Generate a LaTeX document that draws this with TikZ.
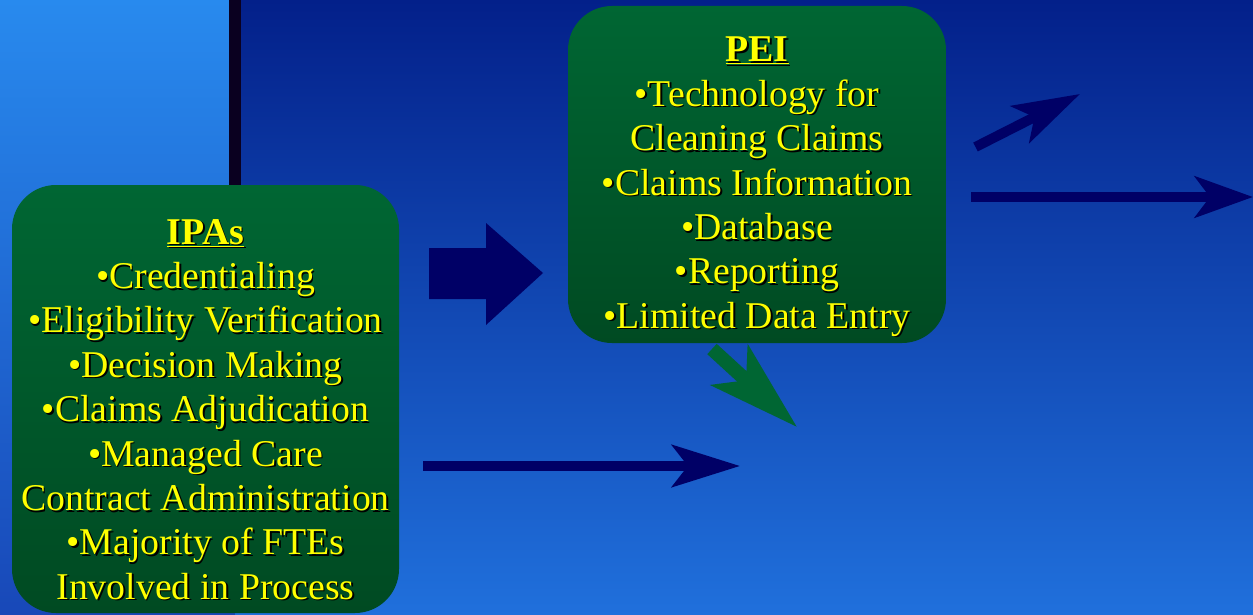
\documentclass[tikz,border=0pt]{standalone}
\usepackage{fontspec}
\setmainfont{Liberation Serif}
\usetikzlibrary{arrows.meta}
\definecolor{navy}{HTML}{000066}
\definecolor{boxtop}{HTML}{006633}
\definecolor{boxbot}{HTML}{004A22}
\definecolor{ltop}{HTML}{288AEE}
\definecolor{lbot}{HTML}{1848B8}
\definecolor{rtop}{HTML}{03208A}
\definecolor{rbot}{HTML}{2070DC}
\definecolor{barc}{HTML}{0A0020}
\definecolor{txtyellow}{HTML}{FFFF00}
\newcommand\shd[1]{\leavevmode\rlap{\kern1.6pt\raisebox{-1.6pt}{\color{black}#1}}#1}
\tikzset{
  greenbox/.style={rounded corners=44pt, top color=boxtop, bottom color=boxbot, draw=none},
  boxtext/.style={align=center, inner sep=0pt, text=txtyellow, font=\fontsize{37.8}{44.4}\selectfont},
  navyline/.style={draw=navy, line width=10pt, fill=navy},
}
\begin{document}
\begin{tikzpicture}[x=1pt,y=-1pt]
\useasboundingbox (0,0) rectangle (1253,615);
% background panels
\shade[top color=ltop, bottom color=lbot] (0,0) rectangle (235,615);
\shade[top color=rtop, bottom color=rbot] (235,0) rectangle (1253,615);
\fill[barc] (229,0) rectangle (241,200);

% green arrow (behind PEI box)
\coordinate (gtail) at (712,349);
\coordinate (gtip) at (797,427);
\draw[draw=boxtop, line width=14pt, -{Stealth[length=91pt, width=54pt, inset=22pt, fill=boxtop]}] (gtail) -- (gtip);

% boxes
\path[greenbox] (12,185) rectangle (399,613);
\node[inner sep=0pt, minimum width=387pt, minimum height=428pt] (ipa) at (205.5,399) {};
\path[greenbox] (568,6) rectangle (946,343);
\node[inner sep=0pt, minimum width=378pt, minimum height=337pt] (pei) at (757,174.5) {};

\node[boxtext, anchor=north] (ipatext) at (205.5,219) {%
\shd{\underline{\textbf{IPAs}}}\\
\shd{•Credentialing}\\
\shd{•Eligibility Verification}\\
\shd{•Decision Making}\\
\shd{•Claims Adjudication}\\
\shd{•Managed Care}\\
\shd{Contract Administration}\\
\shd{•Majority of FTEs}\\
\shd{Involved in Process}};

\node[boxtext, anchor=north] (peitext) at (757,37) {%
\shd{\underline{\textbf{PEI}}}\\
\shd{•Technology for}\\
\shd{Cleaning Claims}\\
\shd{•Claims Information}\\
\shd{•Database}\\
\shd{•Reporting}\\
\shd{•Limited Data Entry}};

% block arrow between boxes
\coordinate (ba) at (429,273);
\fill[navy] (429,248) -- (486,248) -- (486,223) -- (543,273) -- (486,325) -- (486,299) -- (429,299) -- cycle;

% bottom arrow
\coordinate (btail) at (423,466);
\coordinate (btip) at (740,466);
\draw[navyline, -{Stealth[length=68pt, width=42pt, inset=16pt]}] (btail) -- (btip);

% right arrows
\coordinate (dtail) at (975.5,147);
\coordinate (dtip) at (1080,94);
\draw[navyline, -{Stealth[length=67pt, width=41pt, inset=16pt]}] (dtail) -- (dtip);
\coordinate (rtail) at (971,197);
\coordinate (rtip) at (1253,197);
\draw[navyline, -{Stealth[length=58pt, width=41pt, inset=15pt]}] (rtail) -- (rtip);
\end{tikzpicture}
\end{document}
